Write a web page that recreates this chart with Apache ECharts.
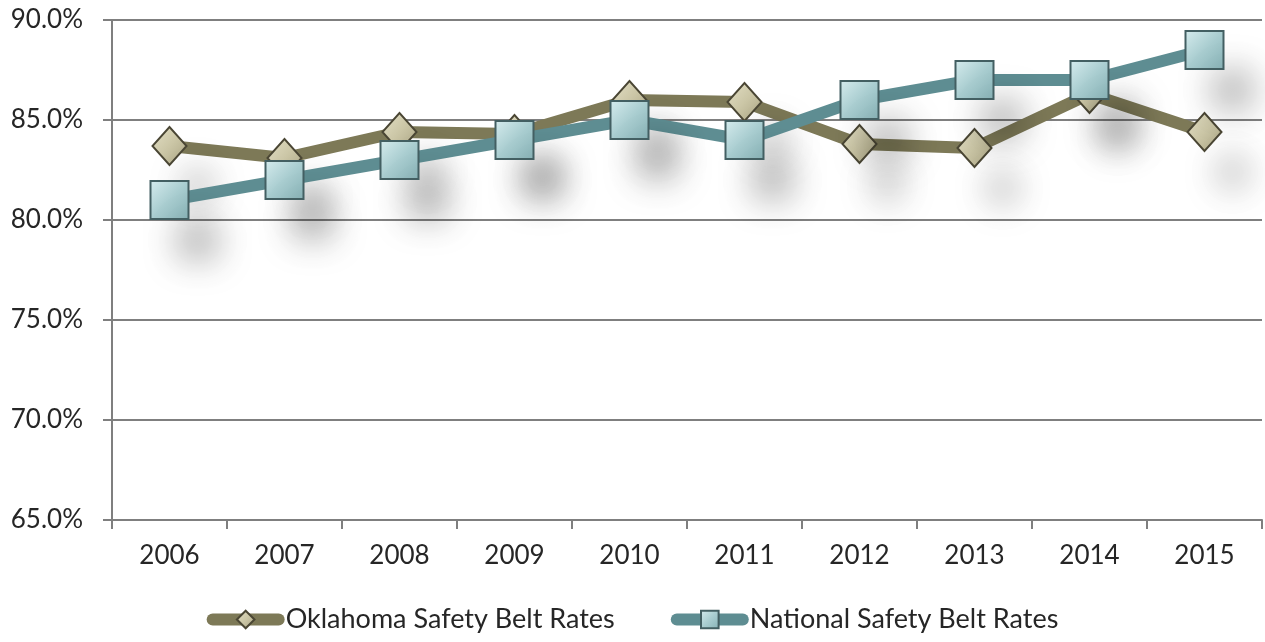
<!DOCTYPE html>
<html><head><meta charset="utf-8">
<script src="https://cdn.jsdelivr.net/npm/echarts@6/dist/echarts.min.js"></script>
<style>html,body{margin:0;padding:0;background:#fff}#c{width:1265px;height:642px}</style>
</head><body><div id="c"></div>
<script>
const years = ['2006','2007','2008','2009','2010','2011','2012','2013','2014','2015'];
const oklahoma = [83.7, 83.1, 84.4, 84.3, 86.0, 85.9, 83.8, 83.6, 86.3, 84.4];
const national = [81.0, 82.0, 83.0, 84.0, 85.0, 84.0, 86.0, 87.0, 87.0, 88.5];
const seriesNames = ['Oklahoma Safety Belt Rates', 'National Safety Belt Rates'];

const font = 'Lato, "Open Sans", sans-serif';
const chart = echarts.init(document.getElementById('c'));
const shadow = {shadowColor:'rgba(0,0,0,0.28)', shadowBlur:34, shadowOffsetX:28, shadowOffsetY:40};
chart.setOption({
  animation:false,
  backgroundColor:'#fff',
  grid:{left:112, right:3, top:20, bottom:122},
  legend:{
    bottom:4, left:'center', itemWidth:66, itemHeight:22, itemGap:56,
    lineStyle:{width:12, cap:'round'},
    textStyle:{fontFamily:font, fontSize:27, color:'#262626', padding:[0,0,0,2]},
    data:seriesNames
  },
  xAxis:{
    type:'category', data:years, boundaryGap:true,
    axisLine:{lineStyle:{color:'#7f7f7f', width:2}},
    axisTick:{show:true, length:9, lineStyle:{color:'#7f7f7f', width:2}},
    axisLabel:{fontFamily:font, fontSize:26, color:'#262626', margin:23}
  },
  yAxis:{
    type:'value', min:65, max:90, interval:5,
    axisLine:{show:true, lineStyle:{color:'#7f7f7f', width:2}},
    axisTick:{show:true, length:9, lineStyle:{color:'#7f7f7f', width:2}},
    splitLine:{lineStyle:{color:'#7f7f7f', width:2}},
    axisLabel:{fontFamily:font, fontSize:26, color:'#262626', margin:29,
      formatter:v=>v.toFixed(1)+'%'}
  },
  series:[
    {
      name:seriesNames[0], type:'line', data:oklahoma, z:2,
      symbol:'diamond', symbolSize:[34,38],
      lineStyle:{color:'#7d7957', width:12},
      itemStyle:Object.assign({
        color:new echarts.graphic.LinearGradient(0,0,1,1,[
          {offset:0,color:'#e4e0c6'},{offset:0.5,color:'#cbc6a6'},{offset:1,color:'#a9a382'}]),
        borderColor:'#4a4634', borderWidth:2
      }, shadow)
    },
    {
      name:seriesNames[1], type:'line', data:national, z:3,
      symbol:'rect', symbolSize:38,
      lineStyle:{color:'#5e8d92', width:12},
      itemStyle:Object.assign({
        color:new echarts.graphic.LinearGradient(0,0,1,1,[
          {offset:0,color:'#d6ecee'},{offset:0.5,color:'#a9cdd0'},{offset:1,color:'#86b1b5'}]),
        borderColor:'#435f62', borderWidth:2
      }, shadow)
    }
  ]
});
</script></body></html>
